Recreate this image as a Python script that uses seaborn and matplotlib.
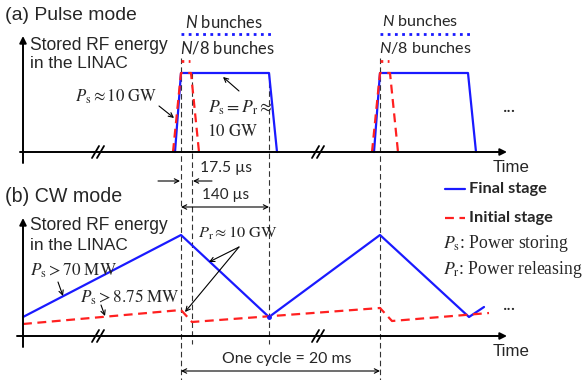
import matplotlib
matplotlib.use("Agg")
import matplotlib.pyplot as plt
import seaborn as sns
import numpy as np

sns.set_style("white")
plt.rcParams['font.family'] = ['Lato', 'DejaVu Sans']
plt.rcParams['mathtext.fontset'] = 'stix'
plt.rcParams['mathtext.it'] = 'Lato:italic'
plt.rcParams['mathtext.rm'] = 'Lato'

BLUE = '#1a1aff'
RED = '#ff2020'

# ---- schematic data (time axis / stored energy, in drawing units) ----
# Panel (a): pulse mode, two pulses
pulse_starts = [181, 380]
pulse_final_t = [-6, 0, 88, 96]
pulse_final_e = [152, 73, 73, 152]
pulse_init_t = [-8, 0, 10, 18]
pulse_init_e = [152, 73, 73, 152]

# Panel (b): CW mode
cw_final_t = [23, 181, 269, 380, 469, 484]
cw_final_e = [317, 235, 317, 235, 317, 307]
cw_init_t = [23, 181, 192, 380, 392, 489]
cw_init_e = [324, 310, 322, 308, 321, 313]

fig = plt.figure(figsize=(5.83, 3.80), dpi=100)
ax = fig.add_axes([0, 0, 1, 1])
ax.set_xlim(0, 583)
ax.set_ylim(380, 0)
ax.axis('off')

to_fit = []
linked = []

def txt(x, y, s, w=None, like=None, **kw):
    kw.setdefault('va', 'center')
    t = ax.text(x, y, s, **kw)
    if w is not None:
        to_fit.append((t, w))
    if like is not None:
        linked.append((t, like))
    return t

def line(x, y, **kw):
    sns.lineplot(x=x, y=y, sort=False, estimator=None, ax=ax, legend=False, **kw)

def arrow(xy, xytext, style='-|>', lw=1.4, ms=10, color='k'):
    ax.annotate('', xy=xy, xytext=xytext,
                arrowprops=dict(arrowstyle=style, lw=lw, color=color,
                                mutation_scale=ms, shrinkA=0, shrinkB=0))

# ---- axes of both panels ----
for base, top, left in [(152, 36, 20), (336, 218, 17)]:
    arrow((507, base), (left, base))
    arrow((23, top), (23, base + 11))
    for bx in (98, 318):
        for dx in (-2.5, 2.5):
            ax.plot([bx + dx - 3.5, bx + dx + 3.5], [base + 6, base - 6], color='k', lw=1.3)

# vertical dashed guides
vd = dict(color='#333333', lw=0.8, dashes=(5, 3))
ax.plot([181, 181], [58, 380], **vd)
ax.plot([192, 192], [73, 344], **vd)
ax.plot([269, 269], [73, 344], **vd)
ax.plot([380, 380], [58, 380], **vd)

# ---- panel (a) curves ----
for i, s in enumerate(pulse_starts):
    line([s + t for t in pulse_final_t], pulse_final_e, color=BLUE, lw=1.6)
    line([s + t for t in pulse_init_t], pulse_init_e, color=RED, lw=1.6, dashes=(4, 2.5))
    ax.plot([s, s + 9], [61, 61], color=RED, lw=2, linestyle=(0, (1, 1.6)))
    ax.plot([s, s + 91], [34, 34], color=BLUE, lw=2, linestyle=(0, (1, 1.6)))
    tn = txt(s + 4 - i * 2, 22, r'$N$ bunches', w=78 - i * 2, fontsize=12,
             math_fontfamily='custom')
    txt(s - 1, 48, r'$N$/8 bunches', like=tn, fontsize=12, math_fontfamily='custom')

# ---- panel (b) curves ----
line(cw_final_t, cw_final_e, color=BLUE, lw=1.6)
line(cw_init_t, cw_init_e, color=RED, lw=1.6, dashes=(4, 2.5))
ax.plot([269], [317], 'o', color=BLUE, ms=2.5)

# ---- texts ----
sans = 'Liberation Sans'
txt(5, 16, '(a) Pulse mode', w=132, fontsize=13, family=sans)
txt(5, 197, '(b) CW mode', w=117, fontsize=13, family=sans)
for y0 in (45, 226):
    txt(30, y0, 'Stored RF energy', w=138, fontsize=11.5, family=sans)
    txt(30, y0 + 19, 'in the LINAC', w=98, fontsize=11.5, family=sans)
for y0 in (168, 352):
    txt(493, y0, 'Time', w=37, fontsize=11.5, family=sans)
txt(503, 106, '...', w=13, fontsize=11)
txt(503, 305, '...', w=13, fontsize=11)

mt = dict(fontsize=12.5)
txt(75, 97, r'$P_\mathrm{s} \approx 10\ \mathrm{GW}$', w=82, **mt)
arrow((174, 118), (159, 106), style='->', lw=0.8, ms=8)
txt(208, 108, r'$P_\mathrm{s} = P_\mathrm{r} \approx$', w=65, **mt)
txt(207, 131, r'$10\ \mathrm{GW}$', w=51, **mt)
arrow((223, 77), (239, 91), style='->', lw=0.8, ms=8)

txt(30, 271, r'$P_\mathrm{s} > 70\ \mathrm{MW}$', w=87, **mt)
arrow((63, 296), (58, 282), style='->', lw=0.8, ms=8)
txt(80, 297, r'$P_\mathrm{s} > 8.75\ \mathrm{MW}$', w=100, **mt)
arrow((105, 316), (101, 305), style='->', lw=0.8, ms=8)
txt(198, 233, r'$P_\mathrm{r} \approx 10\ \mathrm{GW}$', w=80, **mt)
arrow((209, 262), (239, 247), style='->', lw=0.8, ms=8)
arrow((185, 312), (239, 247), style='->', lw=0.8, ms=8)

# dimension arrows
txt(226, 168, '17.5 \u00b5s', w=52, fontsize=11, ha='center')
arrow((180, 181), (158, 181), style='->', lw=0.8, ms=8)
arrow((193, 181), (212, 181), style='->', lw=0.8, ms=8)
txt(226, 195, '140 \u00b5s', w=47, fontsize=11, ha='center')
arrow((269, 207), (181, 207), style='<->', lw=0.8, ms=8)
txt(287, 359, 'One cycle = 20 ms', w=130, fontsize=11, ha='center')
arrow((380, 371), (181, 371), style='<->', lw=0.8, ms=8)

# legend
ax.plot([445, 465], [189, 189], color=BLUE, lw=1.6)
tf = txt(469, 189, 'Final stage', w=78, fontsize=11, weight='bold')
ax.plot([445, 465], [218, 218], color=RED, lw=1.6, dashes=(4, 2.5))
txt(469, 218, 'Initial stage', like=tf, fontsize=11, weight='bold')
tp = txt(443, 269, r'$P_\mathrm{r}$: Power releasing', w=139, fontsize=12,
         family='Liberation Serif')
txt(443, 244, r'$P_\mathrm{s}$: Power storing', like=tp, fontsize=12,
    family='Liberation Serif')

# scale font sizes so that texts span the widths
for _ in range(2):
    fig.canvas.draw()
    r = fig.canvas.get_renderer()
    for t, w in to_fit:
        bw = t.get_window_extent(r).width
        if bw > 0:
            t.set_fontsize(t.get_fontsize() * w / bw)
for t, ref in linked:
    t.set_fontsize(ref.get_fontsize())

fig.savefig('out.png', dpi=100)
